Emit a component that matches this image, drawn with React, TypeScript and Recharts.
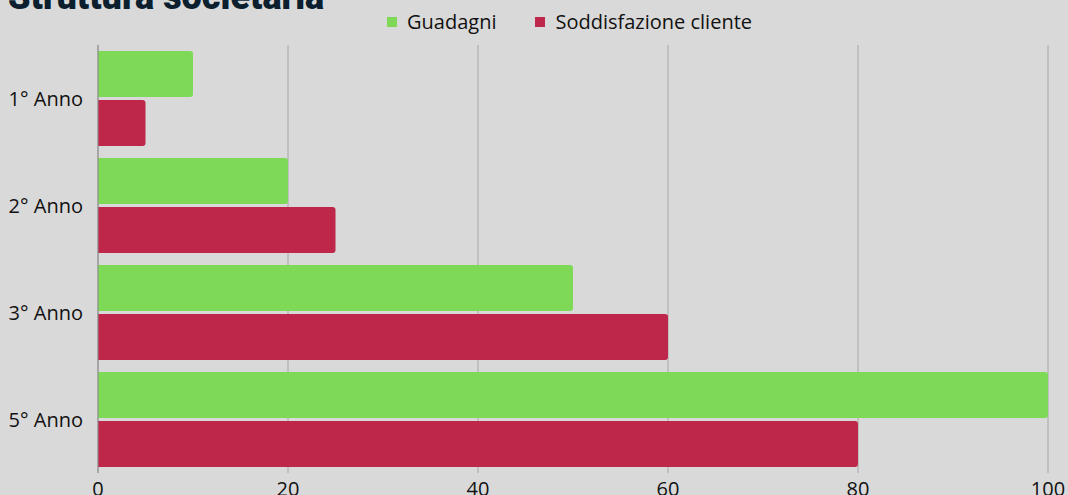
import { BarChart, Bar, XAxis, YAxis, CartesianGrid } from 'recharts';

const years = ['1° Anno', '2° Anno', '3° Anno', '5° Anno'];
const guadagni = [10, 20, 50, 100];
const soddisfazione = [5, 25, 60, 80];
const xTicks = [0, 20, 40, 60, 80, 100];

const series = [
  { key: 'guadagni', name: 'Guadagni', color: '#7ED957' },
  { key: 'soddisfazione', name: 'Soddisfazione cliente', color: '#BE264A' },
];

const data = years.map((year, i) => ({
  year,
  guadagni: guadagni[i],
  soddisfazione: soddisfazione[i],
}));

const font = '"Open Sans", sans-serif';

export default function App() {
  return (
    <div
      style={{
        position: 'absolute',
        left: 0,
        top: 0,
        width: 1068,
        height: 495,
        background: '#D9D9D9',
        overflow: 'hidden',
        fontFamily: font,
      }}
    >
      <div
        style={{
          position: 'absolute',
          left: 8,
          top: -21,
          fontFamily: 'Roboto, sans-serif',
          fontWeight: 900,
          fontSize: 36,
          lineHeight: '36px',
          color: '#0B1F2E',
          whiteSpace: 'nowrap',
        }}
      >
        Struttura societaria
      </div>
      <div style={{ position: 'absolute', left: 387, top: 10, display: 'flex', alignItems: 'center' }}>
        {series.map((s) => (
          <div key={s.key} style={{ display: 'flex', alignItems: 'center', marginRight: 39 }}>
            <span style={{ width: 10, height: 10, background: s.color, display: 'inline-block', marginRight: 10 }} />
            <span style={{ fontSize: 20, color: '#111111', lineHeight: '24px' }}>{s.name}</span>
          </div>
        ))}
      </div>
      <BarChart
        width={1068}
        height={495}
        data={data}
        layout="vertical"
        margin={{ top: 45, right: 20, bottom: 0, left: 0 }}
        barCategoryGap={6}
        barGap={3}
      >
        <CartesianGrid horizontal={false} stroke="#A6A6A6" />
        <XAxis
          type="number"
          domain={[0, 100]}
          ticks={xTicks}
          axisLine={false}
          tickLine={false}
          tickMargin={3}
          height={22}
          tick={{ fill: '#111111', fontSize: 20, fontFamily: font }}
        />
        <YAxis
          type="category"
          dataKey="year"
          width={98}
          axisLine={{ stroke: '#8C8C8C' }}
          tickLine={false}
          tickMargin={9}
          tick={{ fill: '#111111', fontSize: 20, fontFamily: font }}
        />
        {series.map((s) => (
          <Bar
            key={s.key}
            dataKey={s.key}
            name={s.name}
            fill={s.color}
            radius={[0, 3, 3, 0]}
            isAnimationActive={false}
          />
        ))}
      </BarChart>
    </div>
  );
}
